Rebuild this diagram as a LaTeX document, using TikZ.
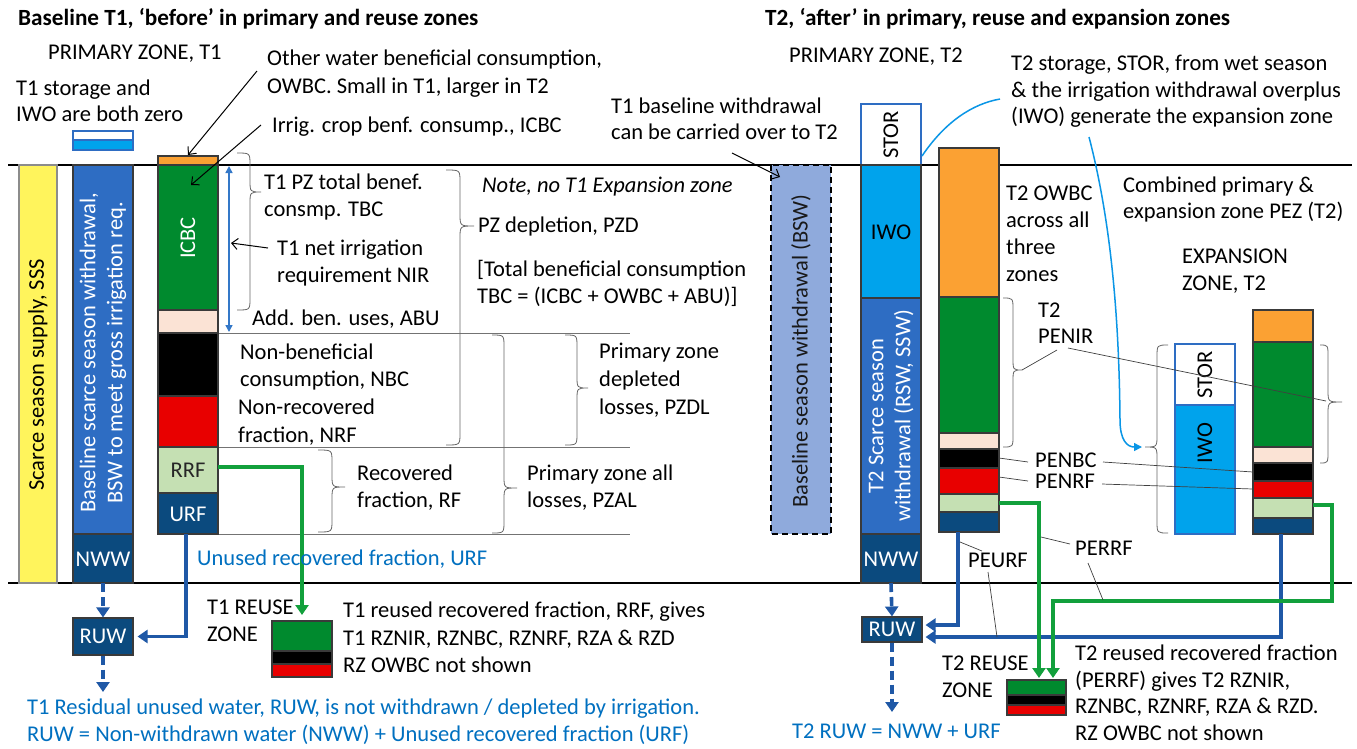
\documentclass[tikz,border=0pt]{standalone}
\usepackage{fontspec}
\setmainfont{Carlito}
\usetikzlibrary{arrows.meta}
\definecolor{cyel}{HTML}{FFF45C}
\definecolor{cbsw}{HTML}{2E6DC3}
\definecolor{cnavy}{HTML}{0B4A7E}
\definecolor{ciwo}{HTML}{00A3EC}
\definecolor{corange}{HTML}{FBA133}
\definecolor{cgreen}{HTML}{008A2E}
\definecolor{cpeach}{HTML}{FBE3D5}
\definecolor{cred}{HTML}{E80000}
\definecolor{clgreen}{HTML}{C5E0B3}
\definecolor{cbswd}{HTML}{8FAADC}
\definecolor{tblue}{HTML}{0070C0}
\definecolor{arrblue}{HTML}{1F58A6}
\definecolor{arrgreen}{HTML}{12A03C}
\definecolor{curveblue}{HTML}{0A96E6}
\definecolor{nirblue}{HTML}{3478C8}
\definecolor{bord}{HTML}{3A3A3A}
\newcommand\fs{\fontsize{22.5}{27}\selectfont}
\newcommand\fst{\fontsize{23.2}{27}\selectfont\bfseries}
\newcommand\mybrace[6]{\draw[brc] (#1,#4) .. controls (#2,#4) .. (#2,#4+12) -- (#2,#5-12) .. controls (#2,#5) .. (#3,#5) .. controls (#2,#5) .. (#2,#5+12) -- (#2,#6-12) .. controls (#2,#6) .. (#1,#6);}
\tikzset{
  lbl/.style={anchor=base west, inner sep=0pt, font=\fs},
  ctr/.style={inner sep=0pt, font=\fs},
  seg/.style={draw=bord, line width=1.1pt},
  brc/.style={draw=black!60, line width=0.8pt},
  lead/.style={draw=black!75, line width=0.7pt},
  thkB/.style={draw=arrblue, line width=3.6pt, -{Triangle[length=10pt,width=13pt]}},
  thkG/.style={draw=arrgreen, line width=3.6pt, -{Triangle[length=10pt,width=13pt]}},
  dashB/.style={draw=arrblue, line width=3.6pt, dash pattern=on 9pt off 5pt, -{Triangle[length=10pt,width=13pt]}},
  thinarr/.style={draw=black, line width=1pt, -{Straight Barb[length=6pt,width=11pt]}},
  boxn/.style={ctr, fill=cnavy, draw=bord, line width=1.1pt, text=white, minimum width=60pt},
}
\begin{document}
\begin{tikzpicture}[x=1pt,y=-1pt]
\useasboundingbox (0,0) rectangle (1357,748);
\fill[white] (0,0) rectangle (1357,748);

% main horizontal lines
\draw[black, line width=1.1pt] (8,165) -- (1352,165);
\draw[black, line width=1.1pt] (8,583) -- (1352,583);

% thin gray separators (left)
\draw[black!55, line width=0.8pt] (218,333) -- (630,333);
\draw[black!55, line width=0.8pt] (218,447) -- (630,447);
\draw[black!55, line width=0.8pt] (218,534) -- (630,534);

% ===== LEFT BARS =====
\filldraw[fill=cyel, draw=black!45, line width=1.1pt] (19,165) rectangle (57,583);
\node[ctr, rotate=90] (sss) at (38,375) {Scarce season supply, SSS};

\filldraw[fill=cbsw, draw=bord, line width=1.1pt] (73,165) rectangle (133,534);
\node[ctr, rotate=90, text=white, align=center] (bsw) at (103,353) {Baseline scarce season withdrawal,\\BSW to meet gross irrigation req.};
\filldraw[fill=cnavy, seg] (73,534) rectangle (133,583);
\node[ctr, text=white] (nww1) at (103,559) {NWW};

\filldraw[fill=white, draw=cbsw, line width=1.1pt] (73,131) rectangle (133,140);
\filldraw[fill=ciwo, draw=cbsw, line width=1.1pt] (73,140) rectangle (133,150);

\filldraw[fill=corange, seg] (158,156) rectangle (218,165);
\filldraw[fill=cgreen, seg] (158,165) rectangle (218,310);
\filldraw[fill=cpeach, seg] (158,310) rectangle (218,333);
\filldraw[fill=black, seg] (158,333) rectangle (218,396);
\filldraw[fill=cred, seg] (158,396) rectangle (218,447);
\filldraw[fill=clgreen, seg] (158,447) rectangle (218,493);
\filldraw[fill=cnavy, seg] (158,493) rectangle (218,534);
\node[ctr, rotate=90, text=white] (icbc) at (188,238) {ICBC};
\node[ctr, text=black!85] (rrf) at (188,470) {RRF};
\node[ctr, text=white] (urf) at (188,514) {URF};

% NIR double arrow
\draw[nirblue, line width=1.5pt, {Triangle[length=7pt,width=7pt]}-{Triangle[length=7pt,width=7pt]}] (229,166) -- (229,332);

% braces left
\mybrace{237}{250}{261}{153}{192}{310}
\mybrace{446}{460}{474}{170}{226}{445}
\mybrace{565}{577}{588}{335}{388}{445}
\mybrace{492}{504}{517}{335}{488}{533}
\mybrace{318}{332}{345}{450}{487}{532}

% reuse T1 box
\filldraw[fill=cgreen, seg] (272,621) rectangle (332,651);
\filldraw[fill=black, seg] (272,651) rectangle (332,664);
\filldraw[fill=cred, seg] (272,664) rectangle (332,677);

% RUW T1
\node[boxn, minimum height=37pt] (ruw1) at (103,636.5) {RUW};

% arrows left
\coordinate (rrfR) at (218,467);
\coordinate (rz1) at (302,615);
\draw[thkG] (rrfR) -- (302,467) -- (rz1);
\coordinate (urfB) at (186,534);
\draw[thkB, shorten >=4pt] (urfB) |- (ruw1.east);
\draw[dashB] (nww1.center |- 0,583) -- (ruw1.north);
\coordinate (ruw1end) at (103,692);
\draw[dashB] (ruw1.south) -- (ruw1end);

% thin black arrows
\coordinate (owbcS) at (257,71);
\coordinate (owbcE) at (188,155);
\draw[thinarr] (owbcS) -- (owbcE);
\coordinate (icbcS) at (261,125);
\coordinate (icbcE) at (191,185);
\draw[thinarr] (icbcS) -- (icbcE);
\coordinate (nirS) at (268,248);
\coordinate (nirE) at (231,243);
\draw[thinarr] (nirS) -- (nirE);

% texts left
\node[lbl, font=\fst] (tA) at (18,25) {Baseline T1, ‘before’ in primary and reuse zones};
\node[lbl] (tB) at (48,59) {PRIMARY ZONE, T1};
\node[lbl] (tC1) at (16,95) {T1 storage and};
\node[lbl] (tC2) at (16,121) {IWO are both zero};
\node[lbl] (tD1) at (267,65) {Other water beneficial consumption,};
\node[lbl] (tD2) at (267,93) {OWBC. Small in T1, larger in T2};
\node[lbl] (tE) at (272,132) {Irrig. crop benf. consump., ICBC};
\node[lbl] (tF1) at (264,189) {T1 PZ total benef.};
\node[lbl] (tF2) at (264,216) {consmp. TBC};
\node[lbl] (tG1) at (277,255) {T1 net irrigation};
\node[lbl] (tG2) at (277,282) {requirement NIR};
\node[lbl] (tH) at (252,325) {Add. ben. uses, ABU};
\node[lbl, font=\fs\itshape] (tI) at (482,192) {Note, no T1 Expansion zone};
\node[lbl] (tJ) at (478,232) {PZ depletion, PZD};
\node[lbl] (tK1) at (477,276) {[Total beneficial consumption};
\node[lbl] (tK2) at (477,303) {TBC = (ICBC + OWBC + ABU)]};
\node[lbl] (tL1) at (240,359) {Non-beneficial};
\node[lbl] (tL2) at (240,386) {consumption, NBC};
\node[lbl] (tM1) at (238,414) {Non-recovered};
\node[lbl] (tM2) at (238,442) {fraction, NRF};
\node[lbl] (tN1) at (599,358) {Primary zone};
\node[lbl] (tN2) at (599,386) {depleted};
\node[lbl] (tN3) at (599,414) {losses, PZDL};
\node[lbl] (tO1) at (357,480) {Recovered};
\node[lbl] (tO2) at (357,507) {fraction, RF};
\node[lbl] (tP1) at (527,480) {Primary zone all};
\node[lbl] (tP2) at (527,507) {losses, PZAL};
\node[lbl, text=tblue] (tQ) at (197,565) {Unused recovered fraction, URF};
\node[lbl] (tR1) at (207,614) {T1 REUSE};
\node[lbl] (tR2) at (207,641) {ZONE};
\node[lbl] (tS1) at (343,617) {T1 reused recovered fraction, RRF, gives};
\node[lbl] (tS2) at (343,645) {T1 RZNIR, RZNBC, RZNRF, RZA \& RZD};
\node[lbl] (tS3) at (343,672) {RZ OWBC not shown};
\node[lbl, text=tblue] (tT1) at (27,714) {T1 Residual unused water, RUW, is not withdrawn / depleted by irrigation.};
\node[lbl, text=tblue] (tT2) at (27,741) {RUW = Non-withdrawn water (NWW) + Unused recovered fraction (URF)};
\node[lbl] (tU1) at (611,113) {T1 baseline withdrawal};
\node[lbl] (tU2) at (611,139) {can be carried over to T2};

% ===== RIGHT =====
\filldraw[fill=cbswd, draw=black, line width=1.2pt, dash pattern=on 6pt off 4pt] (771,165) rectangle (831,534);
\node[ctr, rotate=90, text=black!90] (bswT2) at (801,351) {Baseline season withdrawal (BSW)};
\coordinate (coS) at (732,153);
\coordinate (coE) at (780,177);
\draw[thinarr] (coS) -- (coE);

\filldraw[fill=white, draw=cbsw, line width=1.1pt] (861,104) rectangle (921,165);
\filldraw[fill=ciwo, seg] (861,165) rectangle (921,298);
\filldraw[fill=cbsw, seg] (861,298) rectangle (921,534);
\filldraw[fill=cnavy, seg] (861,534) rectangle (921,583);
\node[ctr, rotate=90] (stor1) at (891,135) {STOR};
\node[ctr] (iwo1) at (891,232) {IWO};
\node[ctr, rotate=90, text=white, align=center] (ssw) at (891,416) {T2 Scarce season\\withdrawal (RSW, SSW)};
\node[ctr, text=white] (nww2) at (891,559) {NWW};

% column 2
\filldraw[fill=corange, seg] (939,148) rectangle (999,297);
\filldraw[fill=cgreen, seg] (939,297) rectangle (999,433);
\filldraw[fill=cpeach, seg] (939,433) rectangle (999,449);
\filldraw[fill=black, seg] (939,449) rectangle (999,468);
\filldraw[fill=cred, seg] (939,468) rectangle (999,494);
\filldraw[fill=clgreen, seg] (939,494) rectangle (999,512);
\filldraw[fill=cnavy, seg] (939,512) rectangle (999,532);

% expansion STOR/IWO
\filldraw[fill=white, draw=cbsw, line width=1.1pt] (1175,344) rectangle (1235,405);
\filldraw[fill=ciwo, draw=cbsw, line width=1.1pt] (1175,405) rectangle (1235,534);
\node[ctr, rotate=90] (stor2) at (1205,375) {STOR};
\node[ctr, rotate=90] (iwo2) at (1205,443) {IWO};

% column 3
\filldraw[fill=corange, seg] (1253,310) rectangle (1313,342);
\filldraw[fill=cgreen, seg] (1253,342) rectangle (1313,447);
\filldraw[fill=cpeach, seg] (1253,447) rectangle (1313,463);
\filldraw[fill=black, seg] (1253,463) rectangle (1313,481);
\filldraw[fill=cred, seg] (1253,481) rectangle (1313,498);
\filldraw[fill=clgreen, seg] (1253,498) rectangle (1313,518);
\filldraw[fill=cnavy, seg] (1253,518) rectangle (1313,534);

% braces right
\mybrace{1003}{1013}{1022}{298}{370}{447}
\mybrace{1320}{1328}{1342}{345}{402}{463}
\mybrace{1168}{1157}{1145}{345}{447}{533}

% reuse T2 box
\filldraw[fill=cgreen, seg] (1007,680) rectangle (1066,695);
\filldraw[fill=black, seg] (1007,695) rectangle (1066,705);
\filldraw[fill=cred, seg] (1007,705) rectangle (1066,715);

% RUW T2
\node[boxn, minimum height=25pt] (ruw2) at (892,629.5) {RUW};

% blue curves
\coordinate (storR) at (922,156);
\coordinate (storT) at (1000,99);
\draw[curveblue, line width=1.5pt] (storR) .. controls (945,122) and (972,104) .. (storT);
\coordinate (genS) at (1089,137);
\coordinate (genE) at (1142,447);
\draw[curveblue, line width=1.5pt, -{Triangle[length=8pt,width=8pt]}] (genS) .. controls (1108,210) and (1119,300) .. (1120,420) .. controls (1120,440) and (1127,447) .. (genE);

% thick arrows right
\coordinate (c2B) at (958,532);
\coordinate (c3B) at (1281,534);
\draw[thkB, shorten >=3pt] (c2B) -- (958,625) -- (ruw2.east |- 0,625);
\draw[thkB, shorten >=3pt] (c3B) -- (1281,637) -- (ruw2.east |- 0,637);
\coordinate (c2G) at (999,503);
\coordinate (c3G) at (1313,505);
\coordinate (rz2a) at (1039,678);
\coordinate (rz2b) at (1053,678);
\draw[thkG] (c2G) -- (1039,503) -- (rz2a);
\draw[thkG] (c3G) -- (1332,505) -- (1332,601) -- (1053,601) -- (rz2b);
\draw[dashB] (nww2.center |- 0,583) -- (ruw2.north);
\coordinate (ruw2end) at (892,712);
\draw[dashB] (ruw2.south) -- (ruw2end);

% texts right
\node[lbl, font=\fst] (uA) at (765,25) {T2, ‘after’ in primary, reuse and expansion zones};
\node[lbl] (uB) at (789,62) {PRIMARY ZONE, T2};
\node[lbl] (uC1) at (1011,70) {T2 storage, STOR, from wet season};
\node[lbl] (uC2) at (1011,97) {\& the irrigation withdrawal overplus};
\node[lbl] (uC3) at (1011,123) {(IWO) generate the expansion zone};
\node[lbl] (uD1) at (1006,200) {T2 OWBC};
\node[lbl] (uD2) at (1006,227) {across all};
\node[lbl] (uD3) at (1006,254) {three};
\node[lbl] (uD4) at (1006,281) {zones};
\node[lbl] (uE1) at (1123,192) {Combined primary \&};
\node[lbl] (uE2) at (1123,218) {expansion zone PEZ (T2)};
\node[lbl] (uF1) at (1182,263) {EXPANSION};
\node[lbl] (uF2) at (1182,290) {ZONE, T2};
\node[lbl] (uG1) at (1038,317) {T2};
\node[lbl] (uG2) at (1038,343) {PENIR};
\node[lbl] (uH) at (1035,467) {PENBC};
\node[lbl] (uI) at (1035,488) {PENRF};
\node[lbl] (uJ) at (968,567) {PEURF};
\node[lbl] (uK) at (1075,555) {PERRF};
\node[lbl] (uL1) at (942,670) {T2 REUSE};
\node[lbl] (uL2) at (942,697) {ZONE};
\node[lbl] (uM1) at (1075,660) {T2 reused recovered fraction};
\node[lbl] (uM2) at (1075,687) {(PERRF) gives T2 RZNIR,};
\node[lbl] (uM3) at (1075,713) {RZNBC, RZNRF, RZA \& RZD.};
\node[lbl] (uM4) at (1075,740) {RZ OWBC not shown};
\node[lbl, text=tblue] (uN) at (792,738) {T2 RUW = NWW + URF};

% leader lines
\draw[lead] (1057,350) -- (1022,370);
\draw[lead] (1068,348) -- (1326,401);
\draw[lead] (999,458) -- (1028,462);
\draw[lead] (1103,462) -- (1253,472);
\draw[lead] (999,477) -- (1028,481);
\draw[lead] (1102,484) -- (1253,489);
\draw[lead] (960,542) -- (982,551);
\draw[lead] (988,572) -- (997,637);
\draw[lead] (1041,537) -- (1070,544);
\draw[lead] (1088,563) -- (1103,600);
\end{tikzpicture}
\end{document}
